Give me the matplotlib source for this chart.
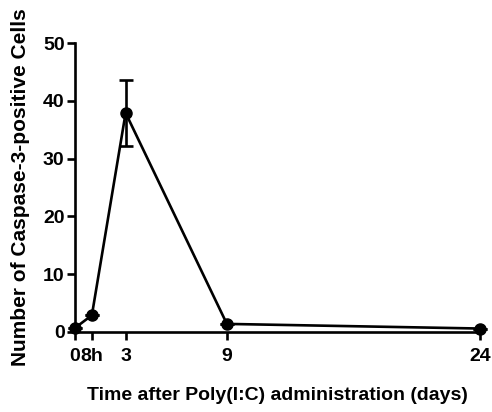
import matplotlib.pyplot as plt

plt.rcParams["font.family"] = ["Liberation Sans", "DejaVu Sans"]
plt.rcParams["font.weight"] = "bold"

# time points (days; 8h drawn at position 1 like the original)
time_pos = [0, 1, 3, 9, 24]
time_labels = ["0", "8h", "3", "9", "24"]
caspase_cells = [0.7, 2.9, 37.9, 1.4, 0.6]
caspase_err = [0, 0, 5.7, 0, 0]

fig = plt.figure(figsize=(4.92, 4.12), dpi=100)
ax = fig.add_axes([75 / 492, 80 / 412, 405 / 492, 289 / 412])

ax.errorbar(time_pos, caspase_cells, yerr=caspase_err, color="black",
            linewidth=1.9, marker="o", markersize=8, capsize=5,
            capthick=1.9, elinewidth=1.9, clip_on=False, zorder=3)

ax.set_xlim(0, 24)
ax.set_ylim(0, 50)
ax.set_xticks(time_pos)
ax.set_xticklabels(time_labels)
ax.set_yticks(range(0, 51, 10))

for side in ("top", "right"):
    ax.spines[side].set_visible(False)
for side in ("left", "bottom"):
    ax.spines[side].set_linewidth(1.9)
ax.tick_params(direction="out", length=5.5, width=1.9, labelsize=14)
ax.tick_params(axis="x", pad=6)
ax.tick_params(axis="y", pad=2)

ax.set_xlabel("Time after Poly(I:C) administration (days)", fontsize=14,
              fontweight="bold")
ax.set_ylabel("Number of Caspase-3-positive Cells", fontsize=15,
              fontweight="bold")
ax.xaxis.set_label_coords(0.5, -0.19)
ax.yaxis.set_label_coords(-0.11, 0.5)

fig.savefig("out.png", dpi=100)
